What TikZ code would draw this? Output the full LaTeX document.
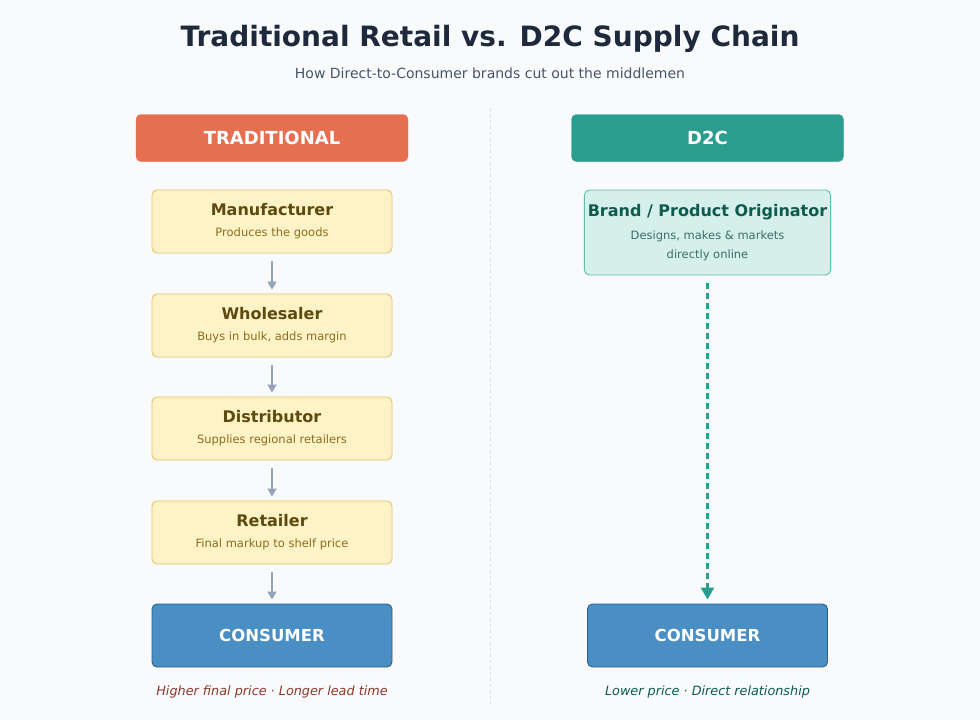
\documentclass[tikz,border=0pt]{standalone}
\usepackage{fontspec}
\setmainfont{DejaVu Sans}
\usetikzlibrary{arrows.meta}
\definecolor{bgc}{HTML}{F8FAFC}
\definecolor{titc}{HTML}{1E293B}
\definecolor{subc}{HTML}{475569}
\definecolor{tradc}{HTML}{E76F51}
\definecolor{dtcc}{HTML}{2A9D8F}
\definecolor{stepfill}{HTML}{FEF3C7}
\definecolor{stepdraw}{HTML}{E3C36A}
\definecolor{steptit}{HTML}{5C4A0E}
\definecolor{stepsubc}{HTML}{8A6D1E}
\definecolor{consfill}{HTML}{4A8FC4}
\definecolor{consdraw}{HTML}{2E5E8A}
\definecolor{brandfill}{HTML}{D5F0EA}
\definecolor{branddraw}{HTML}{5BBFA9}
\definecolor{brandtxt}{HTML}{0F5A4E}
\definecolor{brandsub}{HTML}{3B6E66}
\definecolor{arrc}{HTML}{94A3B8}
\definecolor{notec}{HTML}{8B3A2A}
\newcommand{\subline}[2]{{\fontsize{11.5}{14}\selectfont\mdseries\color{#1}#2}}
\begin{document}
\begin{tikzpicture}[x=1pt,y=-1pt,
head/.style={%
draw=#1,
fill=#1,
rounded corners=5pt,
minimum width=272pt,
minimum height=47pt,
text=white,
font=\fontsize{18}{21}\selectfont\bfseries
},
stepbox/.style={%
draw=stepdraw,
fill=stepfill,
line width=0.9pt,
rounded corners=5pt,
minimum width=240pt,
minimum height=63pt,
align=center,
text=steptit,
font=\fontsize{16}{19}\selectfont\bfseries
},
cons/.style={%
draw=consdraw,
fill=consfill,
line width=0.9pt,
rounded corners=5pt,
minimum width=240pt,
minimum height=63pt,
text=white,
font=\fontsize{16.5}{19}\selectfont\bfseries
},
flow/.style={%
draw=arrc,
line width=1.5pt,
-{Triangle[length=8pt,width=9pt]}
},
]
\fill[bgc] (0,0) rectangle (980,720);
\useasboundingbox (0,0) rectangle (980,720);
%% Title
\node[text=titc,font=\fontsize{28}{32}\selectfont\bfseries](title)at(490,39){Traditional Retail vs. D2C Supply Chain};
\node[text=subc,font=\fontsize{14}{16}\selectfont](subtitle)at(490,73){How Direct-to-Consumer brands cut out the middlemen};
\draw[draw=black!12,dashed,line width=0.8pt] (490,108)--(490,705);
%% Traditional
\node[head=tradc](trad)at(272,138){TRADITIONAL};
\node[stepbox](manu)at(272,221.5){Manufacturer\\[2pt]\subline{stepsubc}{Produces the goods}};
\node[stepbox](whole)at(272,325.5){Wholesaler\\[2pt]\subline{stepsubc}{Buys in bulk, adds margin}};
\node[stepbox](dist)at(272,428.5){Distributor\\[2pt]\subline{stepsubc}{Supplies regional retailers}};
\node[stepbox](retail)at(272,532.5){Retailer\\[2pt]\subline{stepsubc}{Final markup to shelf price}};
\node[cons](tcons)at(272,635.5){CONSUMER};
\foreach \a/\b in {manu/whole,whole/dist,dist/retail,retail/tcons}{%
\draw[flow] ([yshift=-8pt]\a.south)--([yshift=4pt]\b.north);
}
\node[text=notec,font=\fontsize{12.8}{15}\selectfont\itshape](tnote)at(272,692){Higher final price · Longer lead time};
%% D2C
\node[head=dtcc](d2c)at(707.5,138){D2C};
\node[stepbox,draw=branddraw,fill=brandfill,text=brandtxt,minimum height=85pt](brand)at(707.5,232.5){Brand / Product Originator\\[4pt]\subline{brandsub}{Designs, makes \& markets}\\\subline{brandsub}{directly online}};
\node[cons](dcons)at(707.5,635.5){CONSUMER};
\draw[draw=dtcc,line width=2.5pt,dash pattern=on 6pt off 4pt,-{Triangle[length=12pt,width=13pt]}] ([yshift=-8pt]brand.south)--([yshift=4pt]dcons.north);
\node[text=brandtxt,font=\fontsize{12.8}{15}\selectfont\itshape](dnote)at(707.5,692){Lower price · Direct relationship};
\end{tikzpicture}
\end{document}
